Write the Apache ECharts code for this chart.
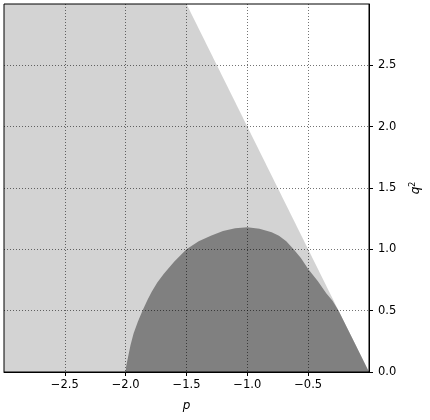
<!DOCTYPE html>
<html>
<head>
<meta charset="utf-8">
<script src="https://cdn.jsdelivr.net/npm/echarts@6/dist/echarts.min.js"></script>
<style>
html,body{margin:0;padding:0;background:#fff;overflow:hidden;}
#chart{width:430px;height:420px;}
</style>
</head>
<body>
<div id="chart"></div>
<script>
// Tick values
const xTicks = [-2.5, -2.0, -1.5, -1.0, -0.5];
const yTicks = [0.0, 0.5, 1.0, 1.5, 2.0, 2.5];

// Light region: q^2 below the line q^2 = -2p (clipped at top)
const lightP  = [-3.0, -1.5, 0.0];
const lightQ2 = [ 3.0,  3.0, 0.0];

// Dark region upper boundary
const darkP  = [-2.0, -1.995, -1.98, -1.96, -1.935, -1.90, -1.862, -1.82, -1.786, -1.74, -1.686, -1.60, -1.50, -1.40, -1.30, -1.20, -1.10, -1.00, -0.90, -0.80, -0.74, -0.68, -0.62, -0.56, -0.50, -0.42, -0.35, -0.30, -0.25, -0.125, 0.0];
const darkQ2 = [ 0.0,  0.05,   0.125, 0.22,  0.314,  0.41,  0.50,   0.59,  0.655,  0.73,  0.80,   0.90,  1.00,  1.065, 1.11,  1.15,  1.172, 1.18,  1.168, 1.14,  1.11,  1.065, 1.00,  0.93,  0.84,  0.74,  0.64,  0.58,  0.50,  0.25,   0.0];

const fmt = v => (Math.round(v * 10) / 10).toFixed(1).replace('-', '\u2212');
const font = 'DejaVu Sans';

const chart = echarts.init(document.getElementById('chart'), null, {renderer: 'canvas'});
chart.setOption({
  animation: false,
  grid: {left: 4, top: 4, right: 57, bottom: 48, show: true, borderColor: '#000', borderWidth: 1, z: 10},
  xAxis: {
    type: 'value', min: -3, max: 0, interval: 0.5, z: 10,
    name: 'p', nameLocation: 'middle', nameGap: 28,
    nameTextStyle: {fontFamily: font, fontSize: 12, fontStyle: 'italic', color: '#000'},
    axisLine: {show: true, onZero: false, lineStyle: {color: '#000', width: 1}},
    axisTick: {show: true, length: 4, lineStyle: {color: '#000'}, customValues: xTicks},
    axisLabel: {color: '#000', fontFamily: font, fontSize: 11.5, margin: 7, formatter: fmt, customValues: xTicks},
    splitLine: {show: true, lineStyle: {color: 'rgba(0,0,0,0.55)', type: [1, 2], width: 1}}
  },
  yAxis: {
    type: 'value', min: 0, max: 3, interval: 0.5, position: 'right', z: 10,
    name: '{i|q}{s|2}', nameLocation: 'middle', nameGap: 40, nameRotate: 90,
    nameTextStyle: {color: '#000', rich: {
      i: {fontFamily: font, fontSize: 12, fontStyle: 'italic', color: '#000'},
      s: {fontFamily: font, fontSize: 8, color: '#000', verticalAlign: 'top', padding: [0,0,6,0]}
    }},
    axisLine: {show: true, lineStyle: {color: '#000', width: 1}},
    axisTick: {show: true, length: 4, lineStyle: {color: '#000'}, customValues: yTicks},
    axisLabel: {color: '#000', fontFamily: font, fontSize: 11.5, margin: 9, formatter: fmt, customValues: yTicks},
    splitLine: {show: true, lineStyle: {color: 'rgba(0,0,0,0.55)', type: [1, 2], width: 1}}
  },
  series: [
    {
      type: 'line', z: 2, showSymbol: false, silent: true,
      data: lightP.map((p, i) => [p, lightQ2[i]]),
      lineStyle: {width: 0},
      areaStyle: {color: '#d3d3d3', opacity: 1}
    },
    {
      type: 'line', z: 3, showSymbol: false, silent: true,
      data: darkP.map((p, i) => [p, darkQ2[i]]),
      lineStyle: {width: 0},
      areaStyle: {color: '#808080', opacity: 1}
    }
  ]
});
</script>
</body>
</html>
